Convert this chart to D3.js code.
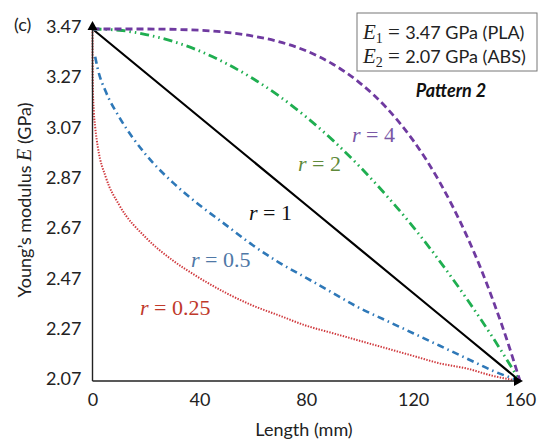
<!DOCTYPE html>
<html>
<head>
<meta charset="utf-8">
<script src="https://cdn.jsdelivr.net/npm/d3@7"></script>
<style>
  html, body { margin: 0; padding: 0; background: #fff; }
  svg { display: block; }
  text { font-family: Lato, "Open Sans", sans-serif; }
  .math { font-family: "Liberation Serif", "DejaVu Serif", serif; }
</style>
</head>
<body>
<div id="chart"></div>
<script>
const xR025 = [0, 0.1, 0.5, 1, 2, 5, 10, 20, 30, 40, 50, 60, 70, 80, 90, 100, 110, 120, 130, 140, 150, 160];
const eR025 = [3.47, 3.25, 3.14, 3.08, 3.00, 2.88, 2.77, 2.64, 2.55, 2.48, 2.42, 2.37, 2.33, 2.29, 2.26, 2.23, 2.20, 2.17, 2.14, 2.12, 2.09, 2.07];

const xR05 = [1, 2, 5, 10, 20, 30, 40, 50, 60, 70, 80, 90, 100, 110, 120, 130, 140, 150, 160];
const eR05 = [3.36, 3.31, 3.22, 3.12, 2.97, 2.86, 2.77, 2.69, 2.61, 2.54, 2.48, 2.42, 2.36, 2.31, 2.26, 2.21, 2.16, 2.11, 2.07];

const xR1 = [0, 40, 80, 120, 160];
const eR1 = [3.47, 3.12, 2.77, 2.42, 2.07];

const xR2 = [0, 10, 20, 30, 40, 50, 60, 70, 80, 90, 100, 110, 120, 130, 140, 150, 160];
const eR2 = [3.470, 3.465, 3.448, 3.421, 3.383, 3.333, 3.273, 3.202, 3.120, 3.027, 2.923, 2.808, 2.683, 2.546, 2.398, 2.240, 2.070];

const xR4 = [0, 20, 40, 50, 60, 70, 80, 90, 100, 110, 120, 130, 140, 145, 150, 155, 160];
const eR4 = [3.470, 3.470, 3.465, 3.457, 3.442, 3.419, 3.383, 3.330, 3.256, 3.157, 3.027, 2.860, 2.649, 2.526, 2.388, 2.237, 2.070];

const xTicks = [0, 40, 80, 120, 160];
const yTicks = [2.07, 2.27, 2.47, 2.67, 2.87, 3.07, 3.27, 3.47];

const W = 540, H = 443;
const svg = d3.select('#chart').append('svg').attr('width', W).attr('height', H);

const x = d3.scaleLinear().domain([0, 160]).range([92.5, 520]);
const y = d3.scaleLinear().domain([2.07, 3.47]).range([381, 29]);

const series = [
  { xs: xR025, es: eR025, color: '#d03a3e', width: 2, dash: '1.4 1.4' },
  { xs: xR05, es: eR05, color: '#2e78b8', width: 2.6, dash: '7 4 1.5 4' },
  { xs: xR1, es: eR1, color: '#000000', width: 2.2, dash: null },
  { xs: xR2, es: eR2, color: '#1fae50', width: 2.8, dash: '9 4 1.5 4 1.5 4' },
  { xs: xR4, es: eR4, color: '#6f3aa0', width: 2.8, dash: '7 4' }
];

const line = d3.line().x(d => x(d[0])).y(d => y(d[1])).curve(d3.curveMonotoneX);

series.forEach(s => {
  svg.append('path')
    .datum(d3.zip(s.xs, s.es))
    .attr('d', line)
    .attr('fill', 'none')
    .attr('stroke', s.color)
    .attr('stroke-width', s.width)
    .attr('stroke-dasharray', s.dash);
});

// axes with arrow heads
const axisCol = '#222';
svg.append('line').attr('x1', x(0)).attr('x2', x(160)).attr('y1', y(2.07)).attr('y2', y(2.07))
  .attr('stroke', axisCol).attr('stroke-width', 1.4);
svg.append('line').attr('x1', x(0)).attr('x2', x(0)).attr('y1', y(2.07)).attr('y2', y(3.47))
  .attr('stroke', axisCol).attr('stroke-width', 1.4);
svg.append('path')
  .attr('d', `M${x(0)},${y(3.47) - 8} L${x(0) - 5},${y(3.47) + 1} L${x(0) + 5},${y(3.47) + 1} Z`)
  .attr('fill', '#000');
svg.append('path')
  .attr('d', `M${x(160) + 3},${y(2.07)} L${x(160) - 6},${y(2.07) - 5} L${x(160) - 6},${y(2.07) + 5} Z`)
  .attr('fill', '#000');

const yAxis = svg.append('g').attr('transform', `translate(${x(0)},0)`)
  .call(d3.axisLeft(y).tickValues(yTicks).tickFormat(d3.format('.2f')).tickSize(0).tickPadding(11));
yAxis.select('.domain').remove();
yAxis.selectAll('text').attr('font-size', 18).attr('fill', '#222').attr('dy', '0.2em')
  .style('font-family', 'Lato, sans-serif');

const xAxis = svg.append('g').attr('transform', `translate(0,${y(2.07)})`)
  .call(d3.axisBottom(x).tickValues(xTicks).tickSize(0).tickPadding(12));
xAxis.select('.domain').remove();
xAxis.selectAll('text').attr('font-size', 18).attr('fill', '#222').style('font-family', 'Lato, sans-serif');

svg.append('text').attr('x', 304).attr('y', 436).attr('text-anchor', 'middle')
  .attr('font-size', 18).attr('fill', '#222').text('Length (mm)');

const yt = svg.append('text').attr('transform', 'translate(31,200) rotate(-90)')
  .attr('text-anchor', 'middle').attr('font-size', 18).attr('fill', '#222');
yt.append('tspan').text('Young\u2019s modulus ');
yt.append('tspan').attr('class', 'math').attr('font-style', 'italic').attr('font-size', 20).text('E');
yt.append('tspan').text(' (GPa)');

svg.append('text').attr('x', 14).attr('y', 31).attr('font-size', 18).attr('fill', '#222').text('(c)');

// legend box
svg.append('rect').attr('x', 357).attr('y', 13).attr('width', 180).attr('height', 58)
  .attr('fill', '#fff').attr('stroke', '#777').attr('stroke-width', 1);
const legendRows = [['1', '3.47 GPa (PLA)', 39], ['2', '2.07 GPa (ABS)', 63]];
legendRows.forEach(([sub, val, yy]) => {
  const t = svg.append('text').attr('x', 363).attr('y', yy).attr('font-size', 18).attr('fill', '#222');
  t.append('tspan').attr('class', 'math').attr('font-style', 'italic').attr('font-size', 21).text('E');
  t.append('tspan').attr('class', 'math').attr('font-size', 14).attr('dy', 4).text(sub);
  t.append('tspan').attr('class', 'math').attr('font-size', 21).attr('dy', -4).text(' = ');
  t.append('tspan').text(val);
});

svg.append('text').attr('x', 451).attr('y', 97).attr('text-anchor', 'middle')
  .attr('font-size', 18).attr('font-weight', 'bold').attr('font-style', 'italic').attr('fill', '#111')
  .text('Pattern 2');

// curve labels
const labels = [
  { r: '4', x: 352, y: 142, color: '#7a58a6' },
  { r: '2', x: 298, y: 171, color: '#5f8a3a' },
  { r: '1', x: 249, y: 220, color: '#111' },
  { r: '0.5', x: 191, y: 267, color: '#4f78a6' },
  { r: '0.25', x: 140, y: 315, color: '#c0392b' }
];
labels.forEach(l => {
  const t = svg.append('text').attr('class', 'math').attr('x', l.x).attr('y', l.y)
    .attr('font-size', 22).attr('fill', l.color);
  t.append('tspan').attr('font-style', 'italic').text('r');
  t.append('tspan').text(' = ' + l.r);
});
</script>
</body>
</html>
